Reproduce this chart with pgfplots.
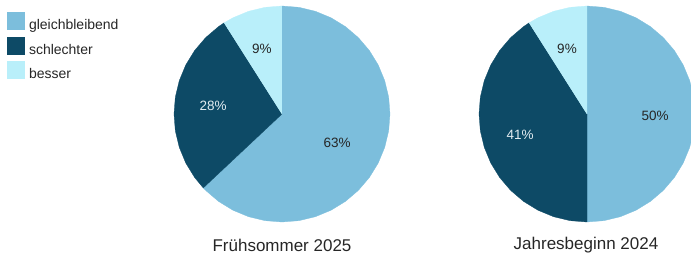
\documentclass[border=0pt]{standalone}
\usepackage{pgfplots}
\pgfplotsset{compat=1.18}
\usepgfplotslibrary{polar}
\usepackage{fontspec}
\setmainfont{Liberation Sans}
\definecolor{cGleich}{HTML}{7CBEDC}
\definecolor{cSchlecht}{HTML}{0D4A66}
\definecolor{cBesser}{HTML}{B9EFFA}
\definecolor{cText}{HTML}{262626}
\definecolor{cLight}{HTML}{E2ECF1}
\begin{document}
\begin{tikzpicture}
\path[use as bounding box] (0,0) rectangle (691pt,259pt);
\pgfplotsset{pie/.style={scale only axis, width=216pt, height=216pt,
  ymin=0, ymax=1, xmin=0, xmax=360, hide axis, clip=false, anchor=center},
  lbl/.style={draw=none, mark=none, forget plot, point meta=explicit symbolic,
  nodes near coords={\pgfplotspointmeta},
  nodes near coords style={anchor=center, font=\fontsize{13.5}{16}\selectfont, text=#1}}}
% Fruehsommer 2025: gleichbleibend 63, schlechter 28, besser 9
\begin{polaraxis}[pie, at={(282pt,145pt)},
  legend style={at={(axis description cs:-0.773,0.972)}, anchor=north west, draw=none, fill=none,
    font=\fontsize{14}{16}\selectfont, text=cText, row sep=3.5pt, inner sep=0pt,
    /tikz/every odd column/.append style={column sep=2.5pt}},
  legend cell align=left,
  legend image code/.code={\fill[#1] (0pt,-4pt) rectangle (17pt,13pt);}]
\addplot[fill=cGleich, draw=cGleich, line width=0.3pt] coordinates {(0,0) (90,1) (81,1) (72,1) (63,1) (54,1) (45,1) (36,1) (27,1) (18,1) (9,1) (0,1) (-9,1) (-18,1) (-27,1) (-36,1) (-45,1) (-54,1) (-63,1) (-72,1) (-81,1) (-90,1) (-99,1) (-108,1) (-117,1) (-126,1) (-135,1) (-136.8,1)};
\addlegendentry{gleichbleibend}
\addplot[fill=cSchlecht, draw=cSchlecht, line width=0.3pt] coordinates {(0,0) (-136.8,1) (-144,1) (-153,1) (-162,1) (-171,1) (-180,1) (-189,1) (-198,1) (-207,1) (-216,1) (-225,1) (-234,1) (-237.6,1)};
\addlegendentry{schlechter}
\addplot[fill=cBesser, draw=cBesser, line width=0.3pt] coordinates {(0,0) (-237.6,1) (-243,1) (-252,1) (-261,1) (-270,1)};
\addlegendentry{besser}
\addplot[lbl=cText] coordinates {(-27.8,0.576) [63\%] (107.1,0.63) [9\%]};
\addplot[lbl=cLight] coordinates {(173.4,0.643) [28\%]};
\end{polaraxis}
% Jahresbeginn 2024: gleichbleibend 50, schlechter 41, besser 9
\begin{polaraxis}[pie, at={(587pt,145pt)}]
\addplot[fill=cGleich, draw=cGleich, line width=0.3pt] coordinates {(0,0) (90,1) (81,1) (72,1) (63,1) (54,1) (45,1) (36,1) (27,1) (18,1) (9,1) (0,1) (-9,1) (-18,1) (-27,1) (-36,1) (-45,1) (-54,1) (-63,1) (-72,1) (-81,1) (-90,1)};
\addplot[fill=cSchlecht, draw=cSchlecht, line width=0.3pt] coordinates {(0,0) (-90,1) (-99,1) (-108,1) (-117,1) (-126,1) (-135,1) (-144,1) (-153,1) (-162,1) (-171,1) (-180,1) (-189,1) (-198,1) (-207,1) (-216,1) (-225,1) (-234,1) (-237.6,1)};
\addplot[fill=cBesser, draw=cBesser, line width=0.3pt] coordinates {(0,0) (-237.6,1) (-243,1) (-252,1) (-261,1) (-270,1)};
\addplot[lbl=cText] coordinates {(-1.7,0.63) [50\%] (107.1,0.63) [9\%]};
\addplot[lbl=cLight] coordinates {(-162.6,0.65) [41\%]};
\end{polaraxis}
\node[font=\fontsize{17}{20}\selectfont, text=cText] at (282pt,14pt) {Frühsommer 2025};
\node[font=\fontsize{17}{20}\selectfont, text=cText] at (586pt,14pt) {Jahresbeginn 2024};
\end{tikzpicture}
\end{document}
